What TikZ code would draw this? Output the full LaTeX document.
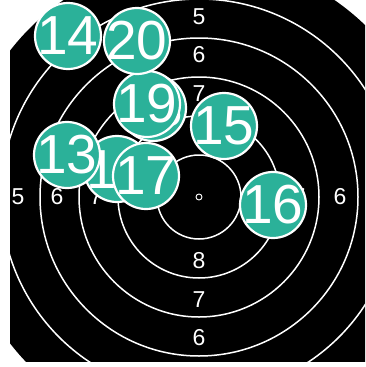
\documentclass[tikz,border=0pt]{standalone}
\usepackage{fontspec}
\setmainfont{Liberation Sans}
\definecolor{shotteal}{RGB}{43,177,153}
\tikzset{
  shot/.style={circle,fill=shotteal,draw=white,line width=2.2pt,minimum size=66pt,
    inner sep=0pt,text=white,font=\fontsize{55}{55}\selectfont},
  ringnum/.style={text=white,inner sep=0pt,font=\fontsize{23}{23}\selectfont}
}
\begin{document}
\begin{tikzpicture}[x=1pt,y=-1pt]
\useasboundingbox (0,0) rectangle (365,367);
\begin{scope}
\clip (10,0) rectangle (365,361);
\fill[black] (199,197) circle (239pt);
\foreach \r in {42,81,120,159,198}
  \draw[white,line width=1.5pt] (199,197) circle (\r pt);
\end{scope}
% ring numbers
\foreach \v/\x/\y [count=\i] in {5/199/17,6/199/55,7/199/94,
    8/199/261,7/199/300,6/199/338,5/18/197,6/57/197,7/96/197,
    7/299/197,6/340/197}
  \node[ringnum] (ring\i) at (\x,\y) {\v};
\draw[white,line width=0.9pt] (199,197) circle (3pt);
% shots
\foreach \n/\x/\y in {12/117/169,13/67/155,14/68/36,15/224/126,16/273/205,
    17/146/176,18/153/108,19/147/104,20/137/41}
  \node[shot] (shot\n) at (\x,\y) {\makebox[0pt]{\n}};
\end{tikzpicture}
\end{document}
